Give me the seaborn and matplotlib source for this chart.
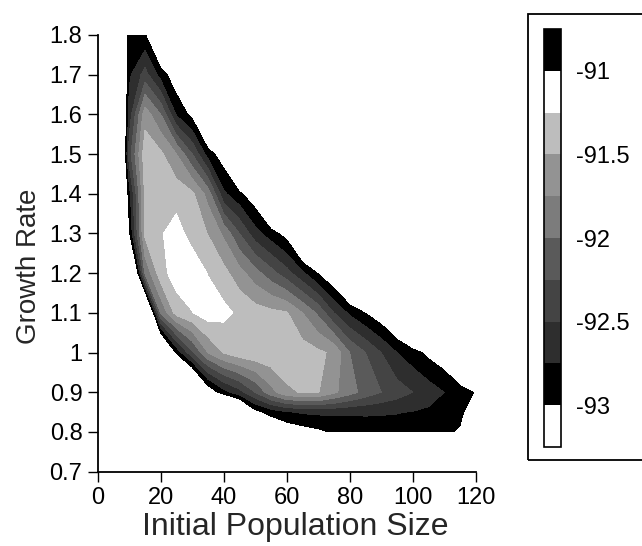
import numpy as np
import matplotlib
matplotlib.use("Agg")
import matplotlib.pyplot as plt
import seaborn as sns
from matplotlib.patches import Rectangle

# style first, fonts after (set_style resets font.family)
sns.set_style("ticks", {"axes.edgecolor": "black", "xtick.color": "black", "ytick.color": "black"})
plt.rcParams["font.family"] = ["Liberation Sans", "DejaVu Sans"]
plt.rcParams["axes.unicode_minus"] = False

# grid: initial population size (columns) x growth rate (rows)
pop_size = [0, 5, 10, 15, 20, 25, 30, 35, 40, 45, 50, 55, 60,
            65, 70, 75, 80, 85, 90, 95, 100, 105, 110, 115, 120]
growth_rate = [0.8, 0.85, 0.9, 1.0, 1.1, 1.2, 1.3, 1.4, 1.5, 1.6, 1.7, 1.8]

# log-likelihood estimates per row (same order as pop_size)
ll_080 = [-95, -95, -95, -95, -95, -95, -95, -95, -95, -95, -93.9, -93.4, -93.22,
          -93.13, -93.06, -92.97, -92.9, -92.87, -92.85, -92.85, -92.87, -92.9, -92.95, -93.03, -93.6]
ll_085 = [-95, -95, -95, -95, -95, -95, -95, -95, -94.5, -93.8, -93.1, -92.9, -92.78,
          -92.72, -92.7, -92.7, -92.72, -92.72, -92.73, -92.74, -92.76, -92.8, -92.86, -92.94, -93.2]
ll_090 = [-95, -95, -95, -95, -95, -95, -94.2, -93.25, -92.85, -92.6, -92.25, -91.85, -91.55,
          -91.48, -91.49, -91.7, -91.9, -92.1, -92.25, -92.38, -92.5, -92.62, -92.75, -92.88, -93.02]
ll_100 = [-95, -95, -95, -95, -94.0, -92.95, -92.3, -91.75, -91.48, -91.35, -91.3, -91.3, -91.33,
          -91.38, -91.45, -91.55, -92.0, -92.25, -92.5, -92.75, -92.9, -93.07, -93.2, -93.6, -94.8]
ll_110 = [-95, -95, -95, -94.2, -91.98, -91.4, -91.26, -91.12, -91.18, -91.3, -91.38, -91.43, -91.48,
          -91.75, -92.05, -92.5, -92.8, -93.01, -93.2, -93.5, -94.0, -94.5, -95, -95, -95]
ll_120 = [-95, -95, -94.3, -91.97, -91.35, -91.12, -91.08, -91.26, -91.42, -91.65, -91.9, -92.15, -92.4,
          -92.7, -93.02, -93.3, -93.8, -94.3, -95, -95, -95, -95, -95, -95, -95]
ll_130 = [-95, -95, -93.05, -91.45, -91.27, -91.15, -91.35, -91.51, -91.8, -92.25, -92.65, -92.89, -93.11,
          -93.8, -94.5, -95, -95, -95, -95, -95, -95, -95, -95, -95, -95]
ll_140 = [-95, -94.6, -92.86, -91.45, -91.35, -91.35, -91.45, -91.85, -92.7, -92.95, -93.2, -93.9, -94.6,
          -95, -95, -95, -95, -95, -95, -95, -95, -95, -95, -95, -95]
ll_150 = [-95, -95, -92.37, -91.35, -91.45, -91.75, -92.25, -92.87, -93.17, -93.9, -94.6, -95, -95,
          -95, -95, -95, -95, -95, -95, -95, -95, -95, -95, -95, -95]
ll_160 = [-95, -94.8, -92.65, -91.6, -92.0, -92.78, -93.09, -93.8, -94.5, -95, -95, -95, -95,
          -95, -95, -95, -95, -95, -95, -95, -95, -95, -95, -95, -95]
ll_170 = [-95, -94.47, -92.8, -92.4, -92.86, -93.21, -94.0, -95, -95, -95, -95, -95, -95,
          -95, -95, -95, -95, -95, -95, -95, -95, -95, -95, -95, -95]
ll_180 = [-95, -94.2, -92.9, -92.97, -93.7, -94.4, -95, -95, -95, -95, -95, -95, -95,
          -95, -95, -95, -95, -95, -95, -95, -95, -95, -95, -95, -95]

levels = [-93.25, -93, -92.75, -92.5, -92.25, -92, -91.75, -91.5, -91.25, -91, -90.75]
band_colors = ["#ffffff", "#000000", "#2e2e2e", "#444444", "#5a5a5a",
               "#7c7c7c", "#939393", "#bdbdbd", "#ffffff", "#000000"]
cbar_ticks = [-93, -92.5, -92, -91.5, -91]
cbar_labels = ["-93", "-92.5", "-92", "-91.5", "-91"]
y_ticks = [0.7, 0.8, 0.9, 1.0, 1.1, 1.2, 1.3, 1.4, 1.5, 1.6, 1.7, 1.8]
y_labels = ["0.7", "0.8", "0.9", "1", "1.1", "1.2", "1.3", "1.4", "1.5", "1.6", "1.7", "1.8"]
x_ticks = [0, 20, 40, 60, 80, 100, 120]

Z = np.array([ll_080, ll_085, ll_090, ll_100, ll_110, ll_120,
              ll_130, ll_140, ll_150, ll_160, ll_170, ll_180])
X, Y = np.meshgrid(pop_size, growth_rate)

fig = plt.figure(figsize=(6.42, 5.46), dpi=100)
ax = fig.add_axes([0.1522, 0.1361, 0.5888, 0.7998])
cax = fig.add_axes([0.8474, 0.1813, 0.0265, 0.7656])

cs = ax.contourf(X, Y, Z, levels=levels, colors=band_colors)

ax.set_xlim(0, 120)
ax.set_ylim(0.7, 1.8)
ax.set_xticks(x_ticks)
ax.set_yticks(y_ticks)
ax.set_yticklabels(y_labels)
ax.tick_params(length=7, width=1, labelsize=17, pad=4)
sns.despine(ax=ax)
for s in ["left", "bottom"]:
    ax.spines[s].set_linewidth(1.3)
ax.set_xlabel("Initial Population Size", fontsize=23)
ax.set_ylabel("Growth Rate", fontsize=20)
ax.xaxis.set_label_coords(0.522, -0.093)
ax.yaxis.set_label_coords(-0.148, 0.47)

cbar = fig.colorbar(cs, cax=cax, ticks=cbar_ticks)
cbar.ax.set_yticklabels(cbar_labels)
cbar.ax.tick_params(length=0, labelsize=17, pad=11)
cbar.outline.set_linewidth(1.2)

# box around the legend, running off the right edge
fig.patches.append(Rectangle((0.8224, 0.1575), 0.3, 0.8168, transform=fig.transFigure,
                             fill=False, lw=1.3, edgecolor="black", clip_on=False))

fig.savefig("out.png", dpi=100)
